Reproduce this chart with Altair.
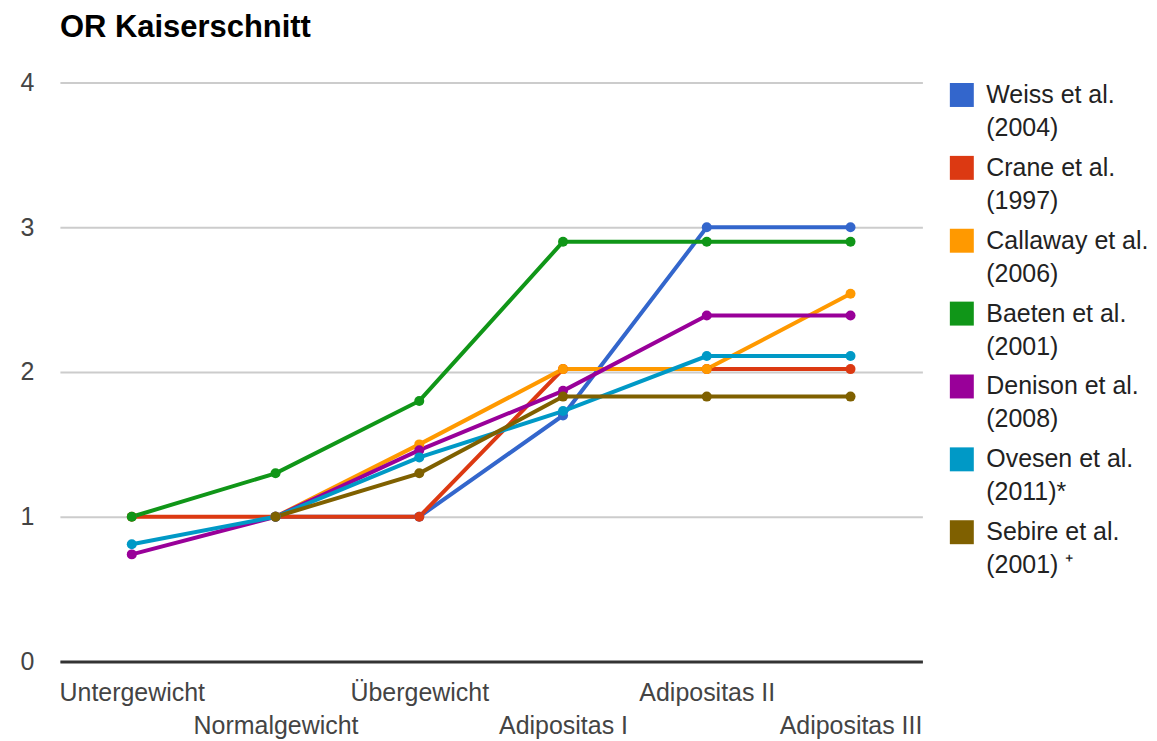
import altair as alt
import pandas as pd

categories = ["Untergewicht", "Normalgewicht", "Übergewicht",
              "Adipositas I", "Adipositas II", "Adipositas III"]

series = ["Weiss et al. (2004)", "Crane et al. (1997)", "Callaway et al. (2006)",
          "Baeten et al. (2001)", "Denison et al. (2008)", "Ovesen et al. (2011)*",
          "Sebire et al. (2001) ⁺"]

weiss = [None, 1.0, 1.0, 1.70, 3.0, 3.0]
crane = [1.0, 1.0, 1.0, 2.02, 2.02, 2.02]
callaway = [None, 1.0, 1.50, 2.02, 2.02, 2.54]
baeten = [1.0, 1.30, 1.80, 2.90, 2.90, 2.90]
denison = [0.74, 1.0, 1.46, 1.87, 2.39, 2.39]
ovesen = [0.81, 1.0, 1.41, 1.73, 2.11, 2.11]
sebire = [None, 1.0, 1.30, 1.83, 1.83, 1.83]

colors = ["#3366cc", "#dc3912", "#ff9900", "#109618", "#990099", "#0099c6", "#7f6000"]

values = [weiss, crane, callaway, baeten, denison, ovesen, sebire]
rows = []
for s, vals in zip(series, values):
    for i, (c, v) in enumerate(zip(categories, vals)):
        if v is not None:
            rows.append({"Gruppe": c, "Studie": s, "OR": v, "idx": i})
df = pd.DataFrame(rows)

FONT = "Liberation Sans"

x = alt.X("Gruppe:N", sort=categories, title=None,
          axis=alt.Axis(labelAngle=0, labelOverlap=False, labelFontSize=25,
                        labelColor="#444444", labelFont=FONT, labelPadding=19,
                        labelBaseline="top", labelLineHeight=33, labelBound=False,
                        labelExpr="round(datum.index*5) % 2 == 1 ? ['', datum.label] : datum.label",
                        ticks=False, domain=True, domainColor="#333333", domainWidth=3,
                        grid=False))
y = alt.Y("OR:Q", title=None, scale=alt.Scale(domain=[0, 4]),
          axis=alt.Axis(values=[0, 1, 2, 3, 4], labelFontSize=25, labelColor="#444444",
                        labelFont=FONT, labelPadding=26, ticks=False, domain=False,
                        grid=True, gridColor="#cccccc", gridWidth=2, format="d"))
color_scale = alt.Scale(domain=series, range=colors)

legend = alt.Legend(title=None, symbolType="square", symbolSize=576,
                    symbolStrokeWidth=0, symbolOpacity=1,
                    labelFont=FONT, labelFontSize=25, labelColor="#222222",
                    labelLimit=400, labelOffset=12,
                    labelExpr="[slice(datum.label, 0, indexof(datum.label, ' (')), slice(datum.label, indexof(datum.label, ' (') + 1)]",
                    rowPadding=14, offset=27, padding=0)

lines = alt.Chart(df).mark_line(strokeWidth=4).encode(
    x=x, y=y,
    color=alt.Color("Studie:N", scale=color_scale, sort=series, legend=legend),
    order=alt.Order("idx:Q"),
)

points = alt.Chart(df).mark_point(filled=True, opacity=1, size=100, shape="circle").encode(
    x=x, y=y,
    color=alt.Color("Studie:N", scale=color_scale, sort=series, legend=legend),
)

chart = alt.layer(lines, points).properties(
    width=864, height=580,
    title=alt.Title("OR Kaiserschnitt", anchor="start", frame="group", fontSize=31,
                    font=FONT, fontWeight="bold", color="#000000", offset=27),
    padding={"left": 12, "top": 3, "right": 0, "bottom": 0},
).configure(style={"guide-label": {"lineHeight": 33}}).configure_view(stroke=None)

chart.save("out.html", embed_options={"renderer": "svg", "actions": False})
